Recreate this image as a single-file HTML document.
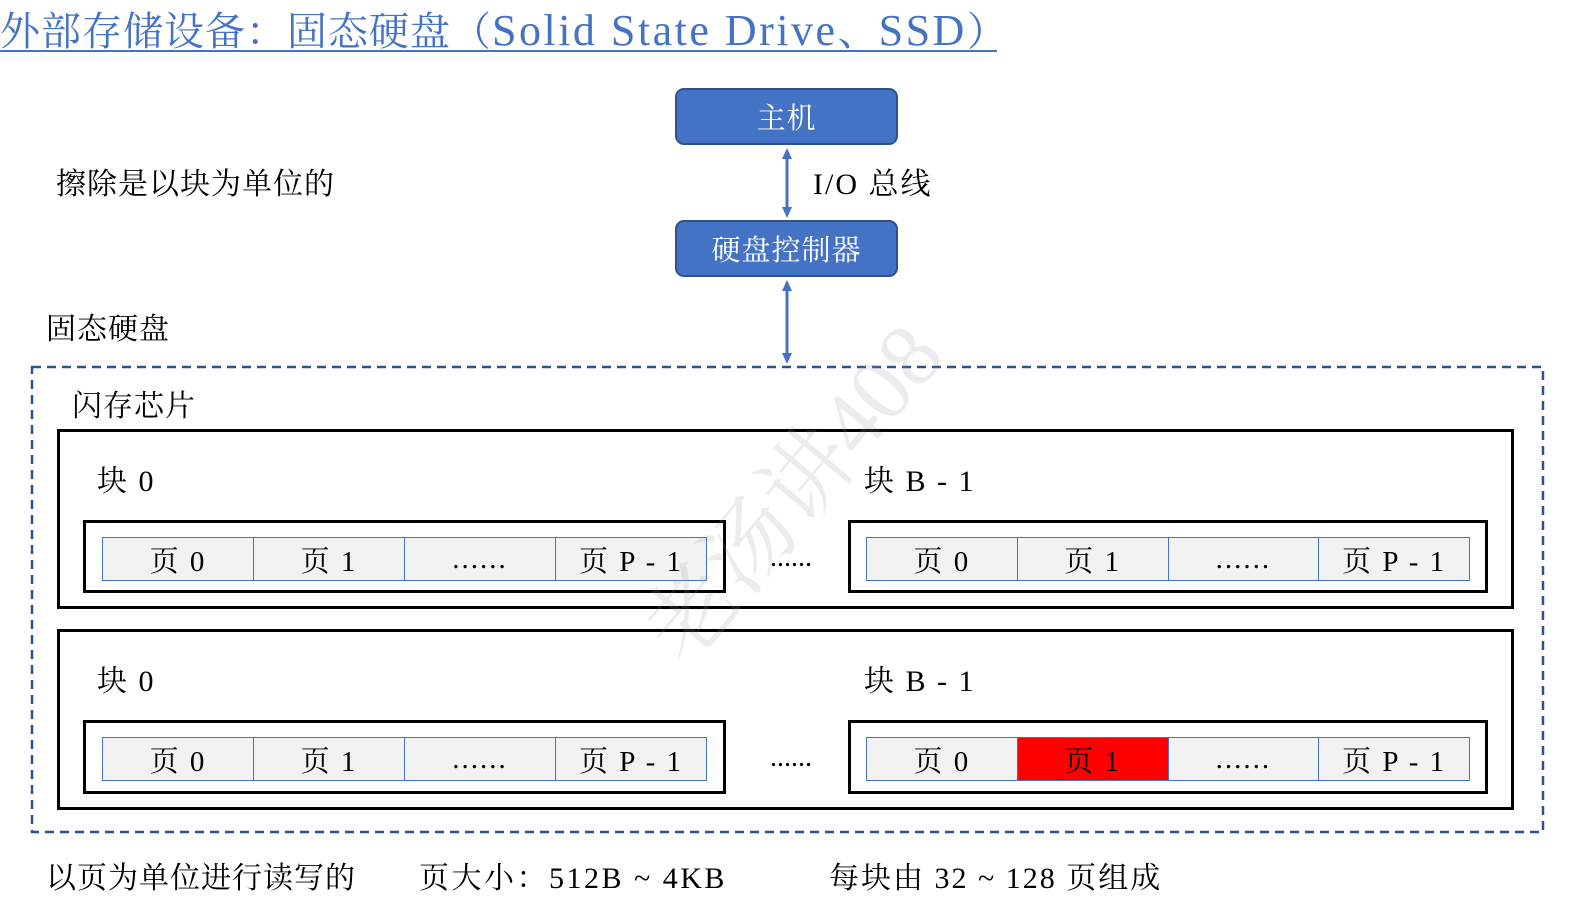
<!DOCTYPE html>
<html><head><meta charset="utf-8"><style>
*{margin:0;padding:0;box-sizing:border-box}
body{width:1595px;height:907px;background:#fff;position:relative;overflow:hidden;font-family:"Liberation Serif","Noto Serif CJK SC",serif;color:#000}
.a{position:absolute;white-space:nowrap}
.t{line-height:1}
.blue{background:#4472C4;border:2px solid #2F528F;border-radius:9px;color:#fff;font-size:29px;letter-spacing:1px;display:flex;align-items:center;justify-content:center}
.box{border:3px solid #000}
.row{display:flex;border:1.5px solid #4472C4}
.row div{flex:1;background:#F2F2F2;border-right:1.5px solid #4472C4;display:flex;align-items:center;justify-content:center;font-size:29px;letter-spacing:2px}
.row div:last-child{border-right:none}
.l{font-size:30px;letter-spacing:1px}
</style></head><body>
<div class="a t" style="left:0;top:9px;font-size:40px;color:#4472C4;letter-spacing:1px">外部存储设备：固态硬盘（<span style="font-size:44px;letter-spacing:2.5px">Solid State Drive</span>、<span style="font-size:44px;letter-spacing:2.5px">SSD</span>）</div>
<div class="a" style="left:0;top:50px;width:997px;height:2px;background:#4472C4"></div>

<div class="a blue" style="left:675px;top:88px;width:223px;height:57px">主机</div>
<div class="a blue" style="left:675px;top:220px;width:223px;height:57px">硬盘控制器</div>
<svg class="a" style="left:0;top:0" width="1595" height="907">
<g stroke="#4472C4" stroke-width="3" fill="#4472C4">
<line x1="787" y1="157" x2="787" y2="209"/>
<polygon points="787,148 782,159 792,159" stroke="none"/>
<polygon points="787,218 782,207 792,207" stroke="none"/>
<line x1="787" y1="289" x2="787" y2="355"/>
<polygon points="787,280 782,291 792,291" stroke="none"/>
<polygon points="787,364 782,353 792,353" stroke="none"/>
</g>
<rect x="32" y="367" width="1511" height="465" fill="none" stroke="#2F528F" stroke-width="2.5" stroke-dasharray="9,6"/>
</svg>
<div class="a t l" style="left:813px;top:170px;letter-spacing:2px">I/O 总线</div>
<div class="a t l" style="left:56px;top:170px">擦除是以块为单位的</div>
<div class="a t l" style="left:46px;top:315px">固态硬盘</div>
<div class="a t l" style="left:72px;top:392px">闪存芯片</div>

<div class="a box" style="left:57px;top:429px;width:1457px;height:180px"></div>
<div class="a box" style="left:57px;top:629px;width:1457px;height:181px"></div>

<div class="a t l" style="left:97px;top:467px;letter-spacing:2px">块 0</div>
<div class="a t l" style="left:864px;top:467px;letter-spacing:2px">块 B - 1</div>
<div class="a t l" style="left:97px;top:667px;letter-spacing:2px">块 0</div>
<div class="a t l" style="left:864px;top:667px;letter-spacing:2px">块 B - 1</div>

<div class="a box" style="left:83px;top:520px;width:643px;height:73px"></div>
<div class="a box" style="left:848px;top:520px;width:640px;height:73px"></div>
<div class="a box" style="left:83px;top:720px;width:643px;height:74px"></div>
<div class="a box" style="left:848px;top:720px;width:640px;height:74px"></div>

<div class="a row" style="left:102px;top:537px;width:605px;height:44px"><div>页 0</div><div>页 1</div><div>......</div><div>页 P - 1</div></div>
<div class="a row" style="left:866px;top:537px;width:604px;height:44px"><div>页 0</div><div>页 1</div><div>......</div><div>页 P - 1</div></div>
<div class="a row" style="left:102px;top:737px;width:605px;height:44px"><div>页 0</div><div>页 1</div><div>......</div><div>页 P - 1</div></div>
<div class="a row" style="left:866px;top:737px;width:604px;height:44px"><div>页 0</div><div style="background:#FF0000">页 1</div><div>......</div><div>页 P - 1</div></div>

<div class="a t" style="left:770px;top:544px;font-size:28px">......</div>
<div class="a t" style="left:770px;top:744px;font-size:28px">......</div>

<div class="a t" style="left:630px;top:620px;font-size:90px;color:rgba(150,150,150,0.18);transform:rotate(-50deg);transform-origin:left top">老汤讲408</div>

<div class="a t l" style="left:46px;top:864px">以页为单位进行读写的</div>
<div class="a t l" style="left:419px;top:864px;letter-spacing:2.5px">页大小：512B ~ 4KB</div>
<div class="a t l" style="left:829px;top:864px;letter-spacing:2px">每块由 32 ~ 128 页组成</div>
</body></html>
